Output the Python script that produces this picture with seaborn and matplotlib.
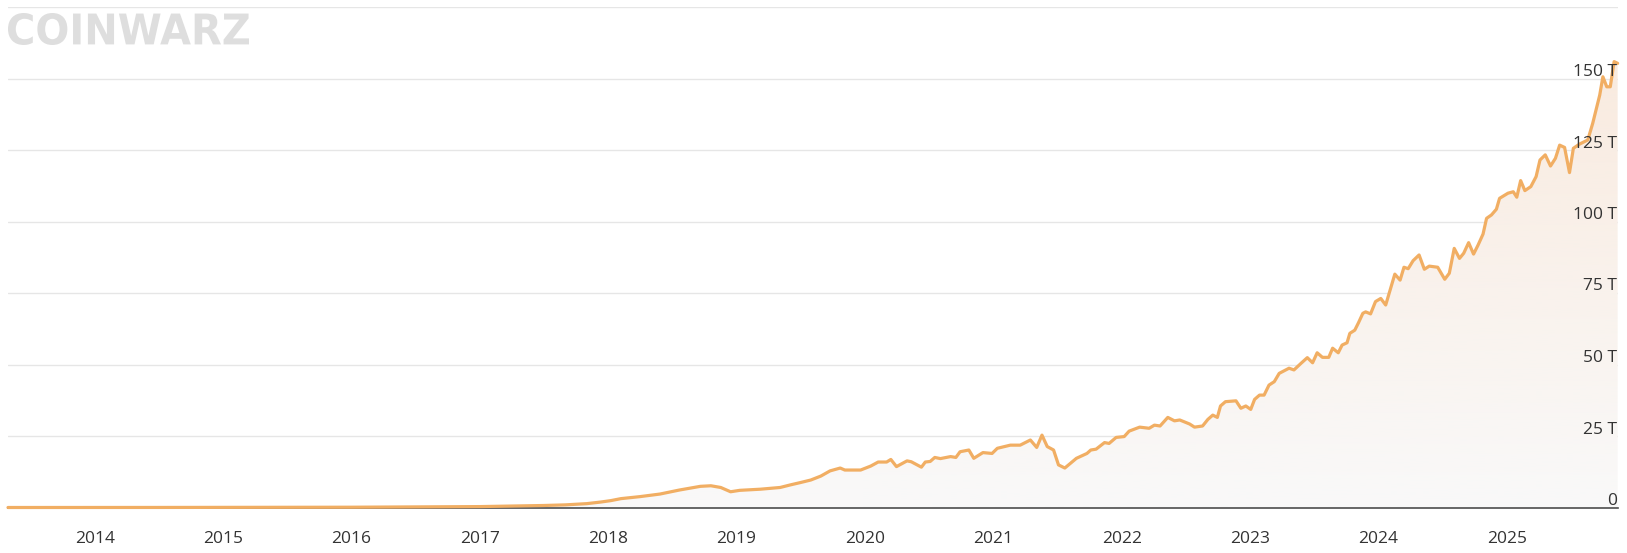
import numpy as np
import pandas as pd
import matplotlib
matplotlib.use("Agg")
import matplotlib.pyplot as plt
import matplotlib.dates as mdates
import matplotlib.transforms as mtransforms
from matplotlib.colors import LinearSegmentedColormap
from matplotlib.textpath import TextPath
from matplotlib.patches import PathPatch
from matplotlib.font_manager import FontProperties
import seaborn as sns

# network difficulty (T)
dates = [
    "2013-04-29", "2013-09-01", "2014-01-01", "2014-07-01", "2015-01-01", "2015-07-01",
    "2016-01-01", "2016-07-01", "2017-01-01", "2017-03-01", "2017-05-01", "2017-07-01",
    "2017-09-01", "2017-11-01", "2017-12-10", "2018-01-08", "2018-02-06", "2018-04-01",
    "2018-05-28", "2018-07-22", "2018-09-20", "2018-10-20", "2018-11-17", "2018-12-15",
    "2019-01-10", "2019-03-10", "2019-05-05", "2019-06-03", "2019-07-01", "2019-07-31",
    "2019-08-29", "2019-09-24", "2019-10-23", "2019-11-05", "2019-12-20", "2020-01-18",
    "2020-02-08", "2020-03-03", "2020-03-15", "2020-03-31", "2020-04-30", "2020-05-12",
    "2020-06-10", "2020-06-21", "2020-07-05", "2020-07-18", "2020-08-03", "2020-09-01",
    "2020-09-16", "2020-09-28", "2020-10-23", "2020-11-06", "2020-12-02", "2020-12-28",
    "2021-01-12", "2021-02-18", "2021-03-18", "2021-04-16", "2021-05-04", "2021-05-19",
    "2021-06-03", "2021-06-21", "2021-07-05", "2021-07-23", "2021-08-25", "2021-09-24",
    "2021-10-05", "2021-10-20", "2021-11-13", "2021-11-26", "2021-12-16", "2022-01-08",
    "2022-01-22", "2022-02-21", "2022-03-20", "2022-04-04", "2022-04-20", "2022-05-12",
    "2022-05-31", "2022-06-15", "2022-07-13", "2022-07-27", "2022-08-19", "2022-09-03",
    "2022-09-17", "2022-09-30", "2022-10-09", "2022-10-23", "2022-11-22", "2022-12-06",
    "2022-12-20", "2023-01-03", "2023-01-14", "2023-01-28", "2023-02-10", "2023-02-24",
    "2023-03-11", "2023-03-25", "2023-04-22", "2023-05-06", "2023-05-26", "2023-06-13",
    "2023-06-28", "2023-07-11", "2023-07-26", "2023-08-13", "2023-08-24", "2023-09-09",
    "2023-09-20", "2023-10-04", "2023-10-12", "2023-10-26", "2023-11-06", "2023-11-18",
    "2023-11-26", "2023-12-10", "2023-12-24", "2024-01-08", "2024-01-22", "2024-02-17",
    "2024-03-03", "2024-03-14", "2024-03-26", "2024-04-09", "2024-04-26", "2024-05-11",
    "2024-05-25", "2024-06-18", "2024-07-08", "2024-07-21", "2024-08-04", "2024-08-19",
    "2024-08-31", "2024-09-14", "2024-09-28", "2024-10-11", "2024-10-25", "2024-11-04",
    "2024-11-18", "2024-12-02", "2024-12-11", "2025-01-04", "2025-01-19", "2025-01-29",
    "2025-02-09", "2025-02-21", "2025-03-10", "2025-03-25", "2025-04-05", "2025-04-20",
    "2025-05-05", "2025-05-19", "2025-05-31", "2025-06-14", "2025-06-28", "2025-07-09",
    "2025-07-27", "2025-08-19", "2025-09-02", "2025-09-22", "2025-10-01", "2025-10-12",
    "2025-10-22", "2025-11-02", "2025-11-12",
]
difficulty = [
    0.0, 0.0001, 0.0014, 0.017, 0.04, 0.05,
    0.1, 0.2, 0.32, 0.44, 0.56, 0.7,
    0.92, 1.35, 1.9, 2.4, 3.1, 3.8,
    4.7, 6.1, 7.4, 7.6, 7.0, 5.5,
    6.0, 6.4, 7.0, 7.9, 8.7, 9.6,
    11.0, 12.8, 13.8, 13.1, 13.1, 14.5,
    15.9, 15.9, 16.8, 14.3, 16.3, 16.0,
    14.1, 15.9, 16.1, 17.5, 17.1, 17.8,
    17.5, 19.5, 20.1, 17.2, 19.2, 18.9,
    20.7, 21.8, 21.8, 23.6, 21.0, 25.3,
    21.3, 20.1, 14.9, 13.8, 17.2, 18.9,
    20.1, 20.4, 22.7, 22.4, 24.5, 24.8,
    26.7, 28.1, 27.7, 28.8, 28.5, 31.5,
    30.3, 30.6, 29.2, 28.1, 28.5, 30.8,
    32.3, 31.5, 35.5, 37.0, 37.3, 34.7,
    35.5, 34.3, 37.8, 39.3, 39.3, 42.8,
    44.0, 46.9, 48.7, 48.1, 50.4, 52.4,
    50.6, 54.1, 52.5, 52.5, 55.7, 54.1,
    56.8, 57.6, 60.9, 62.0, 64.7, 67.9,
    68.4, 67.7, 72.0, 73.1, 70.8, 81.6,
    79.5, 84.0, 83.5, 86.3, 88.3, 83.3,
    84.4, 84.0, 79.8, 81.9, 90.6, 87.1,
    88.9, 92.6, 88.6, 91.8, 95.6, 101.1,
    102.3, 104.3, 108.1, 109.9, 110.4, 108.5,
    114.3, 110.8, 112.2, 115.7, 121.5, 123.3,
    119.4, 122.1, 126.7, 125.9, 117.1, 125.6,
    127.1, 128.5, 134.3, 144.2, 150.6, 147.1,
    147.1, 155.9, 155.3,
]
y_ticks = [0, 25, 50, 75, 100, 125, 150, 175]
y_labels = ["0", "25 T", "50 T", "75 T", "100 T", "125 T", "150 T"]

df = pd.DataFrame({"date": pd.to_datetime(dates), "difficulty": difficulty})

sns.set_style("white")
plt.rcParams["font.family"] = ["Open Sans", "DejaVu Sans"]

W, H = 1627, 553
fig = plt.figure(figsize=(W / 100, H / 100), dpi=100)
ax = fig.add_axes([8 / W, (H - 507.5) / H, 1610 / W, 500.5 / H])
ax.patch.set_alpha(0)

x_lim = (pd.Timestamp("2013-04-29"), pd.Timestamp("2025-11-13"))

# gradient area under the line
poly = ax.fill_between(df["date"], 0, df["difficulty"], color="none", lw=0)
grad = np.linspace(0, 1, 256).reshape(-1, 1)
cmap = LinearSegmentedColormap.from_list("fill", ["#f9f9f9", "#f9e9dc"])
xn = mdates.date2num(x_lim)
img = ax.imshow(grad, cmap=cmap, aspect="auto", origin="lower",
                extent=[xn[0], xn[1], 0, 175], zorder=1)
img.set_clip_path(poly.get_paths()[0], transform=ax.transData)

sns.lineplot(data=df, x="date", y="difficulty", color="#f1ae63", lw=2.3,
             ax=ax, zorder=5, clip_on=False)

ax.set_xlim(*x_lim)
ax.set_ylim(0, 175)
ax.set_xlabel("")
ax.set_ylabel("")

ax.set_yticks(y_ticks)
ax.set_yticklabels([])
ax.tick_params(axis="y", length=0)
ax.yaxis.grid(True, color="#e6e6e6", lw=1.0)
ax.set_axisbelow(True)

ax.xaxis.set_major_locator(mdates.YearLocator())
ax.xaxis.set_major_formatter(mdates.DateFormatter("%Y"))
ax.tick_params(axis="x", length=10, width=1.0, color="#4d4d4d",
               labelsize=12.5, labelcolor="#333333", pad=7)

for s in ["left", "right", "top"]:
    ax.spines[s].set_visible(False)
ax.spines["bottom"].set_color("#4d4d4d")
ax.spines["bottom"].set_linewidth(1.2)
ax.spines["bottom"].set_zorder(4)

# value labels sitting on the gridlines, inside the right edge
trans = mtransforms.blended_transform_factory(ax.transAxes, ax.transData)
trans = mtransforms.offset_copy(trans, fig=fig, x=-1, y=2.5, units="dots")
for v, lab in zip(y_ticks, y_labels):
    ax.text(1.0, v, lab, transform=trans, ha="right", va="baseline",
            fontsize=12.5, color="#333333", zorder=6)

# watermark logo
tp = TextPath((0, 0), "COINWARZ", size=1,
              prop=FontProperties(family="DejaVu Sans", weight="bold"))
ext = tp.get_extents()
tr = (mtransforms.Affine2D()
      .translate(-ext.x0, -ext.y0)
      .scale(241 / ext.width / W, 32 / ext.height / H)
      .translate(8 / W, (H - 45) / H))
fig.add_artist(PathPatch(tp, transform=tr + fig.transFigure,
                         facecolor="#dedede", edgecolor="none", zorder=2))

fig.savefig("out.png", dpi=100)
